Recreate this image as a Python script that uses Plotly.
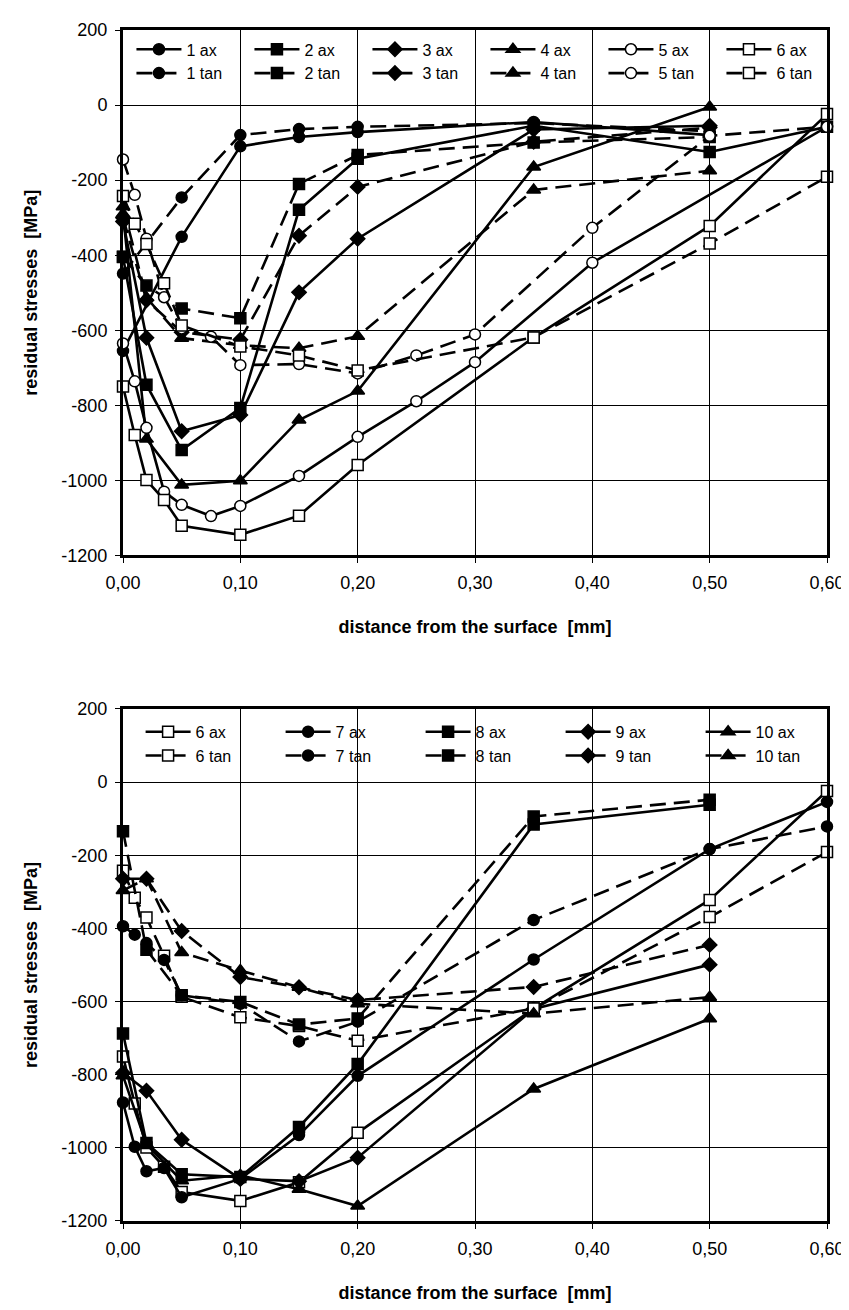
import plotly.graph_objects as go

# ---------------- top panel data (series 1-6) ----------------
x_1ax = [0, 0.05, 0.10, 0.15, 0.20, 0.35, 0.50]
y_1ax = [-655, -351, -110, -85, -72, -45, -80]
x_1tan = [0, 0.05, 0.10, 0.15, 0.20, 0.35, 0.50]
y_1tan = [-449, -246, -80, -64, -58, -48, -70]

x_2ax = [0, 0.02, 0.05, 0.10, 0.15, 0.20, 0.35, 0.50, 0.60]
y_2ax = [-405, -745, -919, -807, -279, -143, -55, -125, -58]
x_2tan = [0, 0.02, 0.05, 0.10, 0.15, 0.20, 0.35, 0.50]
y_2tan = [-404, -481, -542, -568, -210, -133, -100, -85]

x_3ax = [0, 0.02, 0.05, 0.10, 0.15, 0.20, 0.35, 0.50]
y_3ax = [-310, -620, -869, -826, -499, -356, -65, -55]
x_3tan = [0, 0.02, 0.05, 0.10, 0.15, 0.20, 0.35, 0.50]
y_3tan = [-300, -520, -605, -625, -348, -218, -98, -60]

x_4ax = [0, 0.02, 0.05, 0.10, 0.15, 0.20, 0.35, 0.50]
y_4ax = [-290, -890, -1012, -1001, -839, -762, -165, -5]
x_4tan = [0, 0.02, 0.05, 0.10, 0.15, 0.20, 0.35, 0.50]
y_4tan = [-271, -513, -621, -640, -648, -616, -226, -175]

x_5ax = [0, 0.01, 0.02, 0.035, 0.05, 0.075, 0.10, 0.15, 0.20, 0.25, 0.30, 0.40, 0.60]
y_5ax = [-635, -736, -860, -1030, -1065, -1095, -1068, -988, -884, -789, -685, -420, -58]
x_5tan = [0, 0.01, 0.02, 0.035, 0.05, 0.075, 0.10, 0.15, 0.20, 0.25, 0.30, 0.40, 0.50, 0.60]
y_5tan = [-145, -239, -356, -512, -595, -617, -693, -690, -715, -667, -611, -327, -82, -58]

x_6ax = [0, 0.01, 0.02, 0.035, 0.05, 0.10, 0.15, 0.20, 0.35, 0.50, 0.60]
y_6ax = [-750, -879, -999, -1052, -1121, -1145, -1094, -959, -619, -322, -24]
x_6tan = [0, 0.01, 0.02, 0.035, 0.05, 0.10, 0.15, 0.20, 0.35, 0.50, 0.60]
y_6tan = [-242, -316, -370, -475, -587, -643, -667, -707, -619, -369, -191]

# ---------------- bottom panel data (series 6-10) ----------------
x_7ax = [0, 0.01, 0.02, 0.035, 0.05, 0.10, 0.15, 0.20, 0.35, 0.50, 0.60]
y_7ax = [-876, -997, -1064, -1055, -1135, -1085, -965, -803, -485, -183, -54]
x_7tan = [0, 0.01, 0.02, 0.035, 0.05, 0.10, 0.15, 0.20, 0.35, 0.50, 0.60]
y_7tan = [-394, -417, -440, -486, -583, -606, -709, -655, -377, -183, -121]

x_8ax = [0, 0.02, 0.05, 0.10, 0.15, 0.20, 0.35, 0.50]
y_8ax = [-687, -987, -1072, -1080, -943, -771, -116, -62]
x_8tan = [0, 0.02, 0.05, 0.10, 0.15, 0.20, 0.35, 0.50]
y_8tan = [-134, -458, -583, -601, -663, -646, -94, -48]

x_9ax = [0, 0.02, 0.05, 0.10, 0.15, 0.20, 0.35, 0.50]
y_9ax = [-795, -844, -978, -1085, -1091, -1027, -620, -499]
x_9tan = [0, 0.02, 0.05, 0.10, 0.15, 0.20, 0.35, 0.50]
y_9tan = [-264, -264, -407, -533, -561, -596, -560, -445]

x_10ax = [0, 0.02, 0.05, 0.10, 0.15, 0.20, 0.35, 0.50]
y_10ax = [-803, -990, -1090, -1075, -1113, -1159, -839, -647]
x_10tan = [0, 0.02, 0.05, 0.10, 0.15, 0.20, 0.35, 0.50]
y_10tan = [-296, -264, -466, -515, -561, -606, -633, -588]

x_ticks = [0, 0.1, 0.2, 0.3, 0.4, 0.5, 0.6]
x_ticklabels = ["0,00", "0,10", "0,20", "0,30", "0,40", "0,50", "0,60"]
y_ticks = [200, 0, -200, -400, -600, -800, -1000, -1200]
y_ticklabels = ["200", "0", "-200", "-400", "-600", "-800", "-1000", "-1200"]

FONT = "Liberation Sans, Arial"

SYMBOLS = {
    "1": ("circle", True), "2": ("square", True), "3": ("diamond", True),
    "4": ("triangle-up", True), "5": ("circle", False), "6": ("square", False),
    "7": ("circle", True), "8": ("square", True), "9": ("diamond", True),
    "10": ("triangle-up", True),
}

top_series = [
    ("1 ax", x_1ax, y_1ax), ("2 ax", x_2ax, y_2ax), ("3 ax", x_3ax, y_3ax),
    ("4 ax", x_4ax, y_4ax), ("5 ax", x_5ax, y_5ax), ("6 ax", x_6ax, y_6ax),
    ("1 tan", x_1tan, y_1tan), ("2 tan", x_2tan, y_2tan), ("3 tan", x_3tan, y_3tan),
    ("4 tan", x_4tan, y_4tan), ("5 tan", x_5tan, y_5tan), ("6 tan", x_6tan, y_6tan),
]
bottom_series = [
    ("6 ax", x_6ax, y_6ax), ("7 ax", x_7ax, y_7ax), ("8 ax", x_8ax, y_8ax),
    ("9 ax", x_9ax, y_9ax), ("10 ax", x_10ax, y_10ax),
    ("6 tan", x_6tan, y_6tan), ("7 tan", x_7tan, y_7tan), ("8 tan", x_8tan, y_8tan),
    ("9 tan", x_9tan, y_9tan), ("10 tan", x_10tan, y_10tan),
]

fig = go.Figure()


def add(series, xa, ya, legend):
    for name, xs, ys in series:
        num, kind = name.split()
        sym, filled = SYMBOLS[num]
        size = {"circle": 11, "square": 11, "diamond": 11, "triangle-up": 12}[sym]
        fig.add_trace(go.Scatter(
            x=xs, y=ys, name=name, mode="lines+markers",
            xaxis=xa, yaxis=ya, legend=legend, cliponaxis=False,
            line=dict(color="black", width=2.6,
                      dash="solid" if kind == "ax" else "16px,8px"),
            marker=dict(symbol=sym, size=size,
                        color="black" if filled else "white",
                        line=dict(color="black", width=1.5)),
        ))


add(top_series, "x", "y", "legend")
add(bottom_series, "x2", "y2", "legend2")

axis_common = dict(
    showgrid=True, gridcolor="black", gridwidth=1,
    showline=True, linecolor="black", linewidth=3, mirror=True,
    ticks="outside", ticklen=5, tickcolor="black", zeroline=False,
    tickfont=dict(family=FONT, size=18, color="black"),
)

xtitle = dict(text="<b>distance from the surface \u00a0[mm]</b>",
              font=dict(family=FONT, size=18, color="black"),
              standoff=29)
ytitle = dict(text="<b>residual stresses \u00a0[MPa]</b>",
              font=dict(family=FONT, size=18, color="black"),
              standoff=20)

top_dom = [0.5588, 1.0]
bot_dom = [0.0, 0.4299]

fig.update_layout(
    width=849, height=1310,
    margin=dict(l=115, r=26, t=15, b=97),
    paper_bgcolor="white", plot_bgcolor="white",
    font=dict(family=FONT, color="black"),
    xaxis=dict(axis_common, range=[0, 0.6], tickvals=x_ticks, ticktext=x_ticklabels,
               anchor="y", title=xtitle, domain=[0, 1], ticklabelstandoff=4),
    yaxis=dict(axis_common, range=[-1200, 200], tickvals=y_ticks, ticktext=y_ticklabels,
               anchor="x", domain=top_dom, title=ytitle, ticklabelstandoff=4),
    xaxis2=dict(axis_common, range=[0, 0.6], tickvals=x_ticks, ticktext=x_ticklabels,
                anchor="y2", title=xtitle, domain=[0, 1], ticklabelstandoff=4),
    yaxis2=dict(axis_common, range=[-1200, 200], tickvals=y_ticks, ticktext=y_ticklabels,
                anchor="x2", domain=bot_dom, title=ytitle, ticklabelstandoff=4),
    legend=dict(orientation="h", x=0.012, y=0.998, xanchor="left", yanchor="top",
                bgcolor="rgba(0,0,0,0)", itemwidth=45, entrywidth=58,
                font=dict(family=FONT, size=16, color="black"),
                tracegroupgap=0, itemclick=False),
    legend2=dict(orientation="h", x=0.025, y=0.425, xanchor="left", yanchor="top",
                 bgcolor="rgba(0,0,0,0)", itemwidth=45, entrywidth=80,
                 font=dict(family=FONT, size=16, color="black"),
                 tracegroupgap=0, itemclick=False),
    showlegend=True,
)

fig.write_html("out.html")
